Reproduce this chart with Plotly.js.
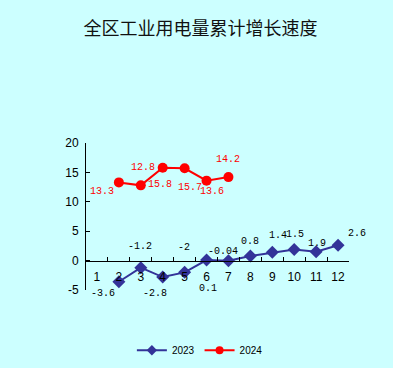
<!DOCTYPE html>
<html>
<head>
<meta charset="utf-8">
<script src="https://cdn.plot.ly/plotly-3.0.1.min.js"></script>
<style>html,body{margin:0;padding:0;background:#ccffff;}</style>
</head>
<body>
<div id="chart" style="width:393px;height:368px;"></div>
<script>
// ---- data ----
const months = ["1","2","3","4","5","6","7","8","9","10","11","12"];
const months2023 = ["2","3","4","5","6","7","8","9","10","11","12"];
const values2023 = [-3.6, -1.2, -2.8, -2, 0.1, -0.04, 0.8, 1.4, 1.9, 1.5, 2.6];
const months2024 = ["2","3","4","5","6","7"];
const values2024 = [13.3, 12.8, 15.8, 15.7, 13.6, 14.2];
const seriesNames = ["2023", "2024"];
const chartTitle = "全区工业用电量累计增长速度";

// ---- label offsets (px) ----
const dx2023 = [-16, -1, -8, -1, 1, -5, 0, 6, 23, -21, 19];
const dy2023 = [-12, 21, -16, 25, -28, 9, 14, 17, 6, 17, 12];
const dx2024 = [-17, 2, -3, 5, 5, 0];
const dy2024 = [-9, 18, -17, -19, -11, 18];

const blue = "#333399", red = "#ff0000";
const labelFont = {family: "Liberation Mono, DejaVu Sans Mono, monospace", size: 10};

const traces = [
  {x: months2023, y: values2023, name: seriesNames[0], type: "scatter", mode: "lines+markers", showlegend: false,
   line: {color: blue, width: 2}, marker: {symbol: "diamond", size: 10, color: blue}},
  {x: months2024, y: values2024, name: seriesNames[1], type: "scatter", mode: "lines+markers", showlegend: false,
   line: {color: red, width: 2}, marker: {symbol: "circle", size: 10, color: red}},
  // legend entries with smaller symbols
  {x: [null], y: [null], name: seriesNames[0], type: "scatter", mode: "lines+markers",
   line: {color: blue, width: 2}, marker: {symbol: "diamond", size: 8, color: blue}},
  {x: [null], y: [null], name: seriesNames[1], type: "scatter", mode: "lines+markers",
   line: {color: red, width: 2}, marker: {symbol: "circle", size: 8, color: red}}
];

const annotations = [];
months2023.forEach((m, i) => annotations.push({x: months.indexOf(m), y: values2023[i], xref: "x", yref: "y",
  text: String(values2023[i]), showarrow: false, xshift: dx2023[i], yshift: dy2023[i],
  font: Object.assign({color: "#000000"}, labelFont)}));
months2024.forEach((m, i) => annotations.push({x: months.indexOf(m), y: values2024[i], xref: "x", yref: "y",
  text: String(values2024[i]), showarrow: false, xshift: dx2024[i], yshift: dy2024[i],
  font: Object.assign({color: red}, labelFont)}));

const layout = {
  width: 393, height: 368,
  paper_bgcolor: "#ccffff", plot_bgcolor: "#ccffff",
  margin: {l: 86, r: 44, t: 143, b: 78, autoexpand: false},
  title: {text: chartTitle, x: 0.51, xanchor: "center", y: 0.923, yanchor: "middle", yref: "container",
          font: {family: "Noto Sans CJK SC, sans-serif", size: 18, color: "#111111"}},
  xaxis: {type: "category", categoryorder: "array", categoryarray: months, range: [-0.5, 11.5],
          anchor: "free", position: 0.2, showline: true, linecolor: "#000", linewidth: 1,
          ticks: "inside", ticklen: 4, tickcolor: "#000", tickson: "boundaries", tickangle: 0,
          showgrid: false, zeroline: false, ticklabelstandoff: 5, automargin: false,
          tickfont: {family: "Liberation Sans, Arial, sans-serif", size: 12, color: "#000"}},
  yaxis: {range: [-5, 20], tickvals: [-5, 0, 5, 10, 15, 20], ticktext: ["-5","0","5","10","15","20"],
          showline: true, linecolor: "#000", linewidth: 1, ticks: "inside", ticklen: 4, tickcolor: "#000",
          showgrid: false, zeroline: false, ticklabelstandoff: 4, automargin: false,
          tickfont: {family: "Liberation Sans, Arial, sans-serif", size: 12, color: "#000"}},
  showlegend: true,
  legend: {orientation: "h", x: 0.433, xanchor: "center", y: -0.41, yanchor: "middle",
           bgcolor: "rgba(0,0,0,0)", font: {family: "Liberation Sans, Arial, sans-serif", size: 10, color: "#000"},
           itemwidth: 30, tracegroupgap: 0},
  annotations: annotations
};

Plotly.newPlot("chart", traces, layout, {displayModeBar: false, staticPlot: true});
</script>
</body>
</html>
